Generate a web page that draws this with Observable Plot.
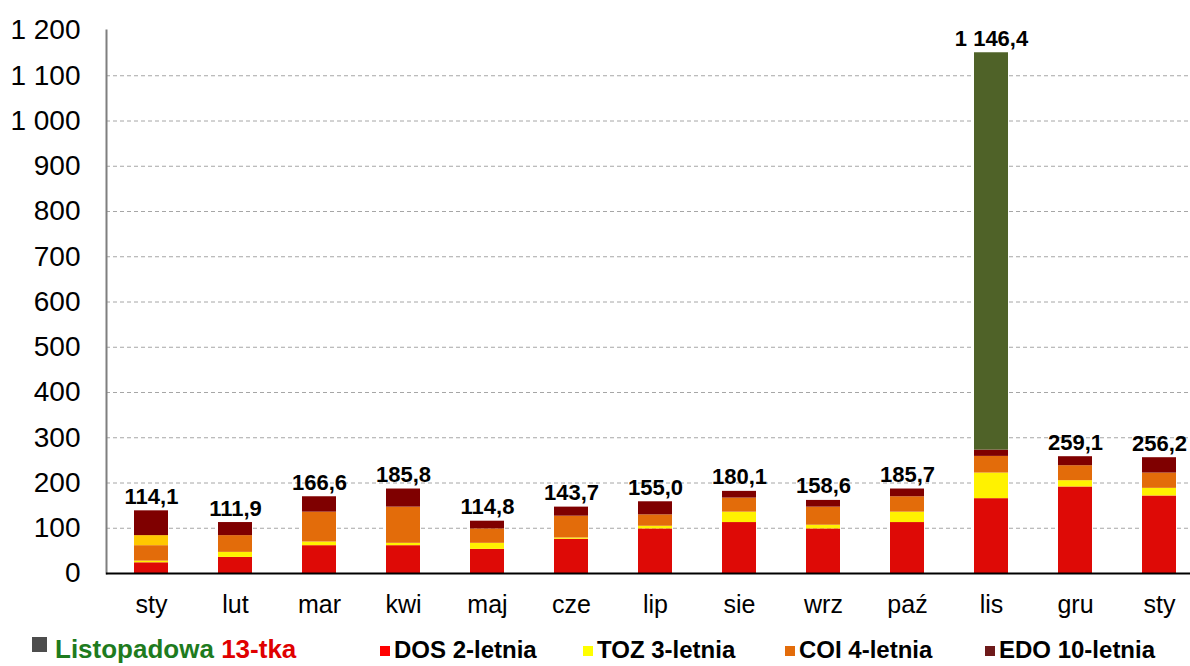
<!DOCTYPE html>
<html>
<head>
<meta charset="utf-8">
<script src="https://cdn.jsdelivr.net/npm/d3@7"></script>
<script src="https://cdn.jsdelivr.net/npm/@observablehq/plot@0.6"></script>
<style>
  body { margin: 0; background: #fff; font-family: "Liberation Sans", Arial, sans-serif; }
  #chart svg { display: block; }
  #legend { position: relative; width: 1190px; height: 36px; font-weight: bold; overflow: hidden; }
  .item { position: absolute; white-space: nowrap; top: 6px; font-size: 24px; line-height: 28px; color: #000; }
  .sw { display: inline-block; width: 10px; height: 10px; margin-right: 4px; vertical-align: 2px; }
</style>
</head>
<body>
<div id="chart"></div>
<div id="legend"></div>
<script>
const months = ["sty","lut","mar","kwi","maj","cze","lip","sie","wrz","paź","lis","gru","sty"];
const totalLabels = ["114,1","111,9","166,6","185,8","114,8","143,7","155,0","180,1","158,6","185,7","1 146,4","259,1","256,2"];
const dos = [23.7, 35.6, 61.5, 61.5, 53.3, 75.6, 98.5, 112.6, 98.5, 112.6, 165.4, 191.2, 171.3];
const toz = [3.7, 11.1, 8.1, 5.2, 13.4, 2.9, 5.9, 23.0, 8.2, 23.0, 56.6, 13.9, 16.9];
const coi = [34.1, 37.0, 66.0, 80.0, 31.8, 48.2, 25.2, 31.1, 40.0, 34.0, 36.8, 33.1, 33.8];
const inne = [22.2, 0, 0, 0, 0, 0, 0, 0, 0, 0, 0, 0, 0];
const edo = [54.8, 28.9, 34.0, 40.0, 17.1, 20.0, 28.9, 14.8, 14.8, 17.1, 14.0, 19.9, 33.9];
const listopadowa = [0, 0, 0, 0, 0, 0, 0, 0, 0, 0, 878.0, 0, 0];
const yTicks = [0, 100, 200, 300, 400, 500, 600, 700, 800, 900, 1000, 1100, 1200];

const seriesNames = ["DOS 2-letnia", "TOZ 3-letnia", "COI 4-letnia", "Inne", "EDO 10-letnia", "Listopadowa 13-tka"];
const seriesValues = [dos, toz, coi, inne, edo, listopadowa];
const seriesColors = ["#DE0A06", "#FFF200", "#E36C0A", "#FFC800", "#7F0000", "#4F6228"];

const rows = [];
months.forEach((m, i) => {
  seriesNames.forEach((s, k) => rows.push({i, series: s, value: seriesValues[k][i]}));
});
const labelRows = months.map((m, i) => ({
  i, label: totalLabels[i], top: d3.sum(seriesValues, v => v[i])
}));

const loc = d3.formatLocale({thousands: " ", grouping: [3], decimal: ",", currency: ["", ""]});
const fmt = loc.format(",d");

const chart = Plot.plot({
  width: 1190,
  height: 630,
  marginLeft: 106,
  marginRight: 0,
  marginTop: 30,
  marginBottom: 57,
  style: {fontFamily: "'Liberation Sans', Arial, sans-serif", background: "#fff", color: "#000"},
  x: {type: "band", domain: d3.range(months.length), range: [106, 1204], paddingInner: 0.6, paddingOuter: 0.3},
  y: {domain: [0, 1200]},
  color: {domain: seriesNames, range: seriesColors},
  marks: [
    Plot.gridY(yTicks.filter(t => t > 0 && t < 1200), {stroke: "#a6a6a6", strokeOpacity: 1, strokeDasharray: "4,3"}),
    Plot.barY(rows, {x: "i", y: "value", fill: "series"}),
    Plot.text(labelRows, {x: "i", y: "top", text: "label", dy: -7, lineAnchor: "bottom", fontWeight: "bold", fontSize: 22, fill: "#000"}),
    Plot.axisY({ticks: yTicks, tickFormat: fmt, tickSize: 0, tickPadding: 26, fontSize: 28, fill: "#000", label: null}),
    Plot.axisX({tickFormat: i => months[i], tickSize: 0, tickPadding: 22, fontSize: 25, fill: "#000", label: null}),
    Plot.frame({anchor: "left", stroke: "#7f7f7f", strokeWidth: 2}),
    Plot.ruleY([0], {stroke: "#000", strokeWidth: 2})
  ]
});
document.getElementById("chart").append(chart);

// legend
const legend = document.getElementById("legend");
const first = document.createElement("div");
first.className = "item";
first.style.left = "32px";
first.style.top = "4px";
first.style.fontSize = "26px";
first.style.lineHeight = "30px";
first.innerHTML = '<span class="sw" style="background:#4d4d4d;width:15px;height:15px;margin-right:8px;vertical-align:6px"></span>' +
  '<span style="color:#1E7B1E">Listopadowa</span> <span style="color:#E00000">13-tka</span>';
legend.append(first);
const legendItems = [
  {name: seriesNames[0], color: "#FF0000", left: 380},
  {name: seriesNames[1], color: "#FFFF00", left: 583},
  {name: seriesNames[2], color: seriesColors[2], left: 785},
  {name: seriesNames[4], color: "#6E1A1A", left: 985}
];
legendItems.forEach(d => {
  const el = document.createElement("div");
  el.className = "item";
  el.style.left = d.left + "px";
  el.innerHTML = `<span class="sw" style="background:${d.color}"></span>${d.name}`;
  legend.append(el);
});
</script>
</body>
</html>
